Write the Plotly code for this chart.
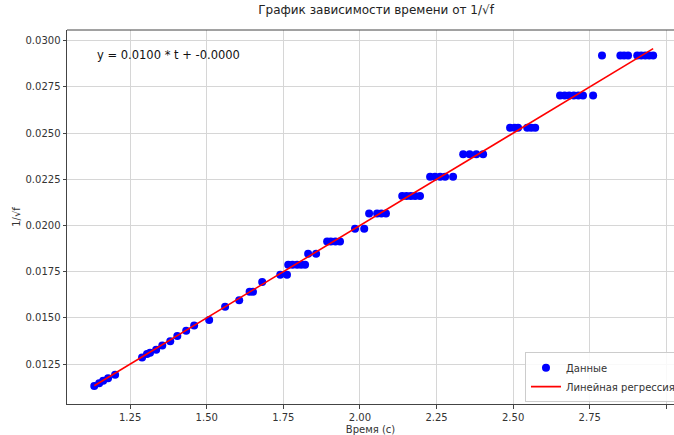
import numpy as np
import plotly.graph_objects as go

# Data: time (s) and 1/sqrt(f)
t_values = [1.133, 1.149, 1.162, 1.178, 1.201,
            1.289, 1.305, 1.315, 1.335, 1.355, 1.381, 1.404, 1.433, 1.459, 1.508,
            1.560, 1.606, 1.640, 1.651, 1.681,
            1.740, 1.762,
            1.766, 1.780, 1.795, 1.808, 1.821,
            1.831, 1.857,
            1.893, 1.905, 1.920, 1.935,
            1.984, 2.014,
            2.030, 2.056, 2.070, 2.085,
            2.138, 2.152, 2.166, 2.180, 2.196,
            2.229, 2.245, 2.262, 2.278, 2.304,
            2.337, 2.358, 2.380, 2.402,
            2.490, 2.505, 2.516, 2.546, 2.559, 2.572,
            2.653, 2.668, 2.683, 2.698, 2.713, 2.728, 2.761,
            2.790, 2.850, 2.862, 2.875, 2.905, 2.918, 2.931, 2.944, 2.957]
inv_sqrt_f = [0.01131, 0.01146, 0.01160, 0.01173, 0.01192,
              0.01286, 0.01304, 0.01311, 0.01327, 0.01351, 0.01374, 0.01402, 0.01430, 0.01459, 0.01488,
              0.01560, 0.01596, 0.01641, 0.01641, 0.01694,
              0.01733, 0.01733,
              0.01787, 0.01787, 0.01787, 0.01787, 0.01787,
              0.01847, 0.01847,
              0.01914, 0.01914, 0.01914, 0.01914,
              0.01982, 0.01982,
              0.02065, 0.02065, 0.02065, 0.02065,
              0.02159, 0.02159, 0.02159, 0.02159, 0.02159,
              0.02264, 0.02264, 0.02264, 0.02264, 0.02264,
              0.02385, 0.02385, 0.02385, 0.02385,
              0.02529, 0.02529, 0.02529, 0.02529, 0.02529, 0.02529,
              0.02704, 0.02704, 0.02704, 0.02704, 0.02704, 0.02704, 0.02704,
              0.02920, 0.02920, 0.02920, 0.02920, 0.02920, 0.02920, 0.02920, 0.02920, 0.02920]

slope = 0.0100
intercept = -0.0000

x_ticks = [1.25, 1.50, 1.75, 2.00, 2.25, 2.50, 2.75, 3.00]
y_ticks = [0.0125, 0.0150, 0.0175, 0.0200, 0.0225, 0.0250, 0.0275, 0.0300]

t_line = np.array([min(t_values), max(t_values)])
y_line = slope * t_line + intercept

fig = go.Figure()
fig.add_trace(go.Scatter(
    x=t_values, y=inv_sqrt_f, mode="markers", name="Данные",
    marker=dict(color="#0000ff", size=8, line=dict(width=0)),
))
fig.add_trace(go.Scatter(
    x=t_line, y=y_line, mode="lines", name="Линейная регрессия",
    line=dict(color="#ff0000", width=1.6),
))

font_family = "DejaVu Sans"
tick_font = dict(family=font_family, size=10, color="#333333")

fig.update_layout(
    width=674, height=435,
    margin=dict(l=67, r=0, t=30, b=31, autoexpand=False),
    paper_bgcolor="white", plot_bgcolor="white",
    title=dict(text="График зависимости времени от 1/√f", x=0.558, xanchor="center",
               y=0.986, yanchor="top",
               font=dict(family=font_family, size=12, color="#222222")),
    showlegend=True,
    legend=dict(x=1.0115, y=0.005, xanchor="right", yanchor="bottom",
                bgcolor="rgba(255,255,255,0.85)", bordercolor="#cccccc", borderwidth=1,
                font=dict(family=font_family, size=10, color="#333333"),
                itemwidth=30, tracegroupgap=0),
    xaxis=dict(range=[1.044, 3.025], tickvals=x_ticks, ticktext=[f"{v:.2f}" for v in x_ticks],
               showgrid=True, gridcolor="#d6d6d6", gridwidth=1,
               showline=True, linecolor="#444444", linewidth=1, mirror=False,
               ticks="outside", ticklen=3.5, tickcolor="#444444", tickfont=tick_font,
               zeroline=False,
               title=dict(text="Время (с)", font=dict(family=font_family, size=10, color="#333333"),
                          standoff=6)),
    yaxis=dict(range=[0.01034, 0.03058], tickvals=y_ticks, ticktext=[f"{v:.4f}" for v in y_ticks],
               showgrid=True, gridcolor="#d6d6d6", gridwidth=1,
               showline=True, linecolor="#444444", linewidth=1, mirror=False,
               ticks="outside", ticklen=3.5, tickcolor="#444444", tickfont=tick_font,
               zeroline=False,
               title=dict(text="1/√f", font=dict(family=font_family, size=10, color="#333333"),
                          standoff=3)),
)

# top spine
fig.add_shape(type="line", xref="paper", yref="paper", x0=0, x1=1, y0=1, y1=1,
              line=dict(color="#444444", width=1))

fig.add_annotation(
    text="y = 0.0100 * t + -0.0000", xref="paper", yref="paper",
    x=(95 - 67) / 607, y=(404 - 55) / 374, xanchor="left", yanchor="middle",
    showarrow=False, font=dict(family=font_family, size=11.5, color="#111111"),
)

fig.write_html("out.html", config={"displayModeBar": False},
               post_script="document.body.style.margin='0';document.body.style.overflow='hidden';")
